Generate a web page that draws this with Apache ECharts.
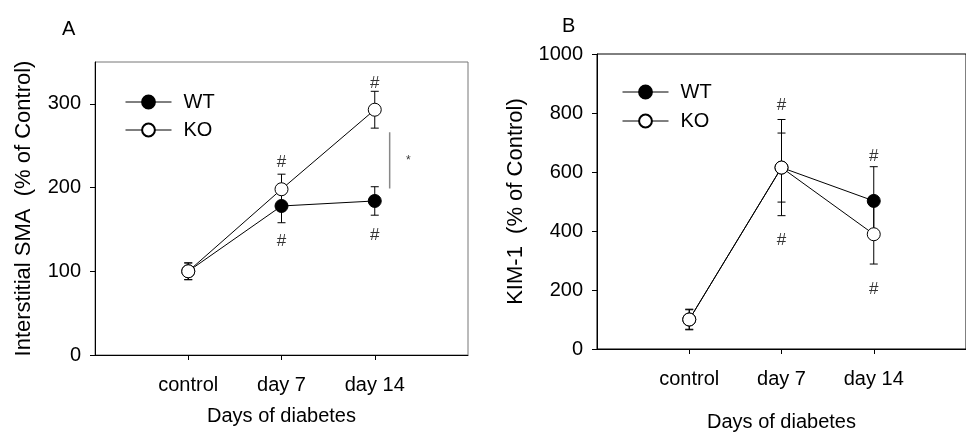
<!DOCTYPE html>
<html>
<head>
<meta charset="utf-8">
<script src="https://cdn.jsdelivr.net/npm/echarts@6/dist/echarts.min.js"></script>
<style>
  html, body { margin: 0; padding: 0; background: #fff; }
  #chart { width: 966px; height: 438px; }
</style>
</head>
<body>
<div id="chart"></div>
<script>
// categories on the x axis (placed at x = 1, 2, 3)
const days = ['control', 'day 7', 'day 14'];

// panel A: Interstitial SMA (% of control), mean and error
const smaWT = [100, 178, 184];
const smaWTerr = [10, 20, 17];
const smaKO = [100, 198, 293];
const smaKOerr = [10, 18, 22];
const smaTicks = [0, 100, 200, 300];
// "#" marks, the KO vs WT bracket and its star
const smaHash = [[2, 230], [2, 136], [3, 325], [3, 143]];
const smaBracket = [[3.16, 199], [3.16, 266]];
const smaStar = [[3.36, 232]];

// panel B: KIM-1 (% of control)
const kimWT = [100, 615, 502];
const kimWTerr = [35, 163, 116];
const kimKO = [100, 615, 389];
const kimKOerr = [33, 117, 101];
const kimTicks = [0, 200, 400, 600, 800, 1000];
const kimHash = [[2, 827], [2, 369], [3, 652], [3, 202]];

const FONT = '"Liberation Sans", Arial, sans-serif';

const points = vals => vals.map((v, i) => [i + 1, v]);
const bars = (vals, err) => vals.map((v, i) => [i + 1, v - err[i], v + err[i]]);

function errRender(params, api) {
  const x = api.value(0);
  const lo = api.coord([x, api.value(1)]);
  const hi = api.coord([x, api.value(2)]);
  const w = 4;
  const st = { stroke: '#000', lineWidth: 1 };
  return {
    type: 'group',
    children: [
      { type: 'line', shape: { x1: lo[0], y1: lo[1], x2: hi[0], y2: hi[1] }, style: st },
      { type: 'line', shape: { x1: lo[0] - w, y1: lo[1], x2: lo[0] + w, y2: lo[1] }, style: st },
      { type: 'line', shape: { x1: hi[0] - w, y1: hi[1], x2: hi[0] + w, y2: hi[1] }, style: st }
    ]
  };
}

function xAxisFor(idx) {
  return {
    type: 'value', gridIndex: idx, min: 0, max: 4, interval: 1,
    splitLine: { show: false },
    axisLine: { lineStyle: { color: '#000', width: 1 } },
    axisTick: { customValues: [1, 2, 3], length: 5, lineStyle: { color: '#000' } },
    axisLabel: {
      customValues: [1, 2, 3], margin: 20, color: '#000', fontSize: 20, fontFamily: FONT,
      formatter: v => days[v - 1] || ''
    },
    name: 'Days of diabetes', nameLocation: 'middle', nameGap: idx === 0 ? 51 : 63,
    nameTextStyle: { color: '#000', fontSize: 20, fontFamily: FONT }
  };
}

function yAxisFor(idx, max, interval, ticks, name, gap) {
  return {
    type: 'value', gridIndex: idx, min: 0, max: max, interval: interval,
    splitLine: { show: false },
    axisLine: { show: true, lineStyle: { color: '#000', width: 1 } },
    axisTick: { show: true, customValues: ticks, length: 5, lineStyle: { color: '#000' } },
    axisLabel: {
      customValues: ticks, margin: 14, color: '#000', fontSize: 20, fontFamily: FONT,
      formatter: v => String(v)
    },
    name: name, nameLocation: 'middle', nameGap: gap,
    nameTextStyle: { color: '#000', fontSize: 22, fontFamily: FONT }
  };
}

function lineSeries(name, idx, vals, fill) {
  return {
    name: name, type: 'line', xAxisIndex: idx, yAxisIndex: idx,
    data: points(vals), symbol: 'circle', symbolSize: 13,
    lineStyle: { color: '#000', width: 1 },
    itemStyle: { color: fill, borderColor: '#000', borderWidth: 1 },
    z: name === 'KO' ? 4 : 3
  };
}

function errSeries(idx, vals, err) {
  return {
    type: 'custom', xAxisIndex: idx, yAxisIndex: idx,
    data: bars(vals, err), renderItem: errRender,
    encode: { x: 0, y: [1, 2] }, z: 1, silent: true
  };
}

function textSeries(idx, data, txt, size) {
  return {
    type: 'scatter', xAxisIndex: idx, yAxisIndex: idx, data: data,
    symbolSize: 0, silent: true,
    label: {
      show: true, position: 'inside', formatter: txt, color: '#000',
      fontSize: size, fontFamily: FONT
    }
  };
}

const legendStyle = {
  orient: 'vertical', itemWidth: 46, itemHeight: 16,
  lineStyle: { width: 1, color: '#000' },
  textStyle: { color: '#000', fontSize: 20, fontFamily: FONT, lineHeight: 20, padding: [0, 0, 0, 7] },
  selectedMode: false
};

const chart = echarts.init(document.getElementById('chart'), null, { renderer: 'canvas' });

chart.setOption({
  animation: false,
  backgroundColor: '#fff',
  title: [
    { text: 'A', left: 57, top: 14, textStyle: { fontSize: 20, fontWeight: 'normal', color: '#000', fontFamily: FONT } },
    { text: 'B', left: 557, top: 11, textStyle: { fontSize: 20, fontWeight: 'normal', color: '#000', fontFamily: FONT } }
  ],
  legend: [
    Object.assign({ data: ['WT', 'KO'], left: 120, top: 87, itemGap: 8 }, legendStyle),
    Object.assign({ data: ['WT', 'KO'], left: 617, top: 77, itemGap: 9 }, legendStyle)
  ],
  grid: [
    { left: 95, top: 62, width: 373, height: 293, show: true, borderColor: '#777', borderWidth: 1 },
    { left: 597, top: 54, width: 373, height: 295, show: true, borderColor: '#000', borderWidth: 1 }
  ],
  xAxis: [xAxisFor(0), xAxisFor(1)],
  yAxis: [
    yAxisFor(0, 350, 50, smaTicks, 'Interstitial SMA  (% of Control)', 60),
    yAxisFor(1, 1000, 200, kimTicks, 'KIM-1  (% of Control)', 70)
  ],
  series: [
    errSeries(0, smaWT, smaWTerr),
    errSeries(0, smaKO, smaKOerr),
    lineSeries('WT', 0, smaWT, '#000'),
    lineSeries('KO', 0, smaKO, '#fff'),
    textSeries(0, smaHash, '#', 17),
    {
      type: 'line', xAxisIndex: 0, yAxisIndex: 0, data: smaBracket, symbol: 'none',
      lineStyle: { color: '#888', width: 1.5 }, silent: true
    },
    textSeries(0, smaStar, '*', 12),
    errSeries(1, kimWT, kimWTerr),
    errSeries(1, kimKO, kimKOerr),
    lineSeries('WT', 1, kimWT, '#000'),
    lineSeries('KO', 1, kimKO, '#fff'),
    textSeries(1, kimHash, '#', 17)
  ]
});
</script>
</body>
</html>
